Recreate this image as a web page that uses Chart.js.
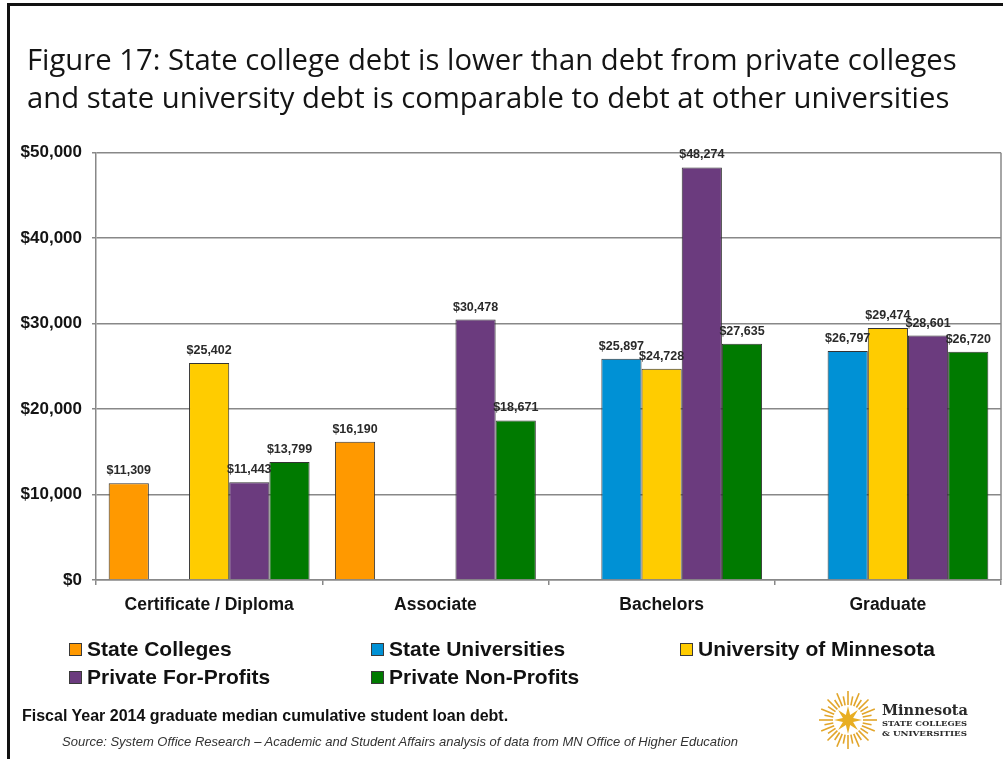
<!DOCTYPE html>
<html>
<head>
<meta charset="utf-8">
<script src="https://cdn.jsdelivr.net/npm/chart.js@4.4.1/dist/chart.umd.min.js"></script>
<style>
html,body{margin:0;padding:0;background:#fff;}
#wrap{position:relative;width:1003px;height:759px;overflow:hidden;background:#fff;}
#frame{position:absolute;left:7px;top:3px;width:1030px;height:820px;border:3px solid #111;box-sizing:border-box;}
#chart{position:absolute;left:0;top:0;}
.lbox{position:absolute;width:11px;height:11px;border:1px solid #3a3a3a;}
.ltxt{position:absolute;font:bold 21px "Liberation Sans",Arial,sans-serif;color:#111;white-space:nowrap;line-height:24px;}
#note{position:absolute;left:22px;top:706px;font:bold 16px "Liberation Sans",Arial,sans-serif;color:#111;white-space:nowrap;line-height:20px;}
#src{position:absolute;left:62px;top:733px;font:italic 13px "Liberation Sans",Arial,sans-serif;color:#333;white-space:nowrap;line-height:18px;}
#logo{position:absolute;left:815px;top:688px;}
</style>
</head>
<body>
<div id="wrap">
  <canvas id="chart" width="1003" height="759"></canvas>
  <div id="frame"></div>
  <div id="legend"></div>
  <div id="note">Fiscal Year 2014 graduate median cumulative student loan debt.</div>
  <div id="src">Source: System Office Research – Academic and Student Affairs analysis of data from MN Office of Higher Education</div>
  <svg id="logo" width="170" height="66" viewBox="0 0 170 66">
    <g id="sun" transform="translate(33,32)"></g>
    <text x="67" y="27" font-family="DejaVu Serif, serif" font-weight="bold" font-size="14" fill="#2b2b2b" textLength="86" lengthAdjust="spacingAndGlyphs">Minnesota</text>
    <text x="67" y="38" font-family="DejaVu Serif, serif" font-weight="bold" font-size="8" fill="#2b2b2b" textLength="85" lengthAdjust="spacingAndGlyphs">STATE COLLEGES</text>
    <text x="67" y="48" font-family="DejaVu Serif, serif" font-weight="bold" font-size="8" fill="#2b2b2b" textLength="85" lengthAdjust="spacingAndGlyphs">&amp; UNIVERSITIES</text>
  </svg>
</div>
<script>
// ---- data ----
const categories = ['Certificate / Diploma', 'Associate', 'Bachelors', 'Graduate'];
const seriesNames = ['State Colleges', 'State Universities', 'University of Minnesota', 'Private For-Profits', 'Private Non-Profits'];
const stateColleges      = [11309, 16190, null,  null];
const stateUniversities  = [null,  null,  25897, 26797];
const univOfMinnesota    = [25402, null,  24728, 29474];
const privateForProfits  = [11443, 30478, 48274, 28601];
const privateNonProfits  = [13799, 18671, 27635, 26720];
const yTickValues = [0, 10000, 20000, 30000, 40000, 50000];
const titleLines = [
  'Figure 17: State college debt is lower than debt from private colleges',
  'and state university debt is comparable to debt at other universities'
];

// ---- styles ----
const seriesColors = ['#FF9900', '#0091D5', '#FFCC00', '#6B3B7E', '#007A00'];
const FONT = '"Liberation Sans", Arial, sans-serif';
const fmt = v => '$' + Number(v).toLocaleString('en-US');

// fit title font to the reference line width
const mctx = document.createElement('canvas').getContext('2d');
let titleSize = 24;
mctx.font = `normal ${titleSize}px "Open Sans"`;
titleSize = +(titleSize * 930 / mctx.measureText(titleLines[0]).width).toFixed(2);

const seriesValues = [stateColleges, stateUniversities, univOfMinnesota, privateForProfits, privateNonProfits];

const framePlugin = {
  id: 'frame',
  afterLayout(chart) {
    if (chart.titleBlock) chart.titleBlock.left = 27;
  },
  beforeDatasetsDraw(chart) {
    const {ctx, chartArea: a} = chart;
    ctx.save();
    ctx.strokeStyle = '#888';
    ctx.lineWidth = 1.5;
    ctx.beginPath();
    ctx.moveTo(a.right, a.top);
    ctx.lineTo(a.right, a.bottom);
    ctx.stroke();
    ctx.restore();
  }
};

const valueLabels = {
  id: 'valueLabels',
  afterDatasetsDraw(chart) {
    const ctx = chart.ctx;
    ctx.save();
    ctx.font = `bold 12.5px ${FONT}`;
    ctx.fillStyle = '#2a2a2a';
    ctx.textAlign = 'center';
    ctx.textBaseline = 'alphabetic';
    chart.data.datasets.forEach((ds, di) => {
      const meta = chart.getDatasetMeta(di);
      meta.data.forEach((el, i) => {
        const v = ds.data[i];
        if (v === null || v === undefined) return;
        ctx.fillText(fmt(v), el.x, el.y - 9);
      });
    });
    ctx.restore();
  }
};

const chart = new Chart(document.getElementById('chart'), {
  type: 'bar',
  data: {
    labels: categories,
    datasets: seriesNames.map((name, i) => ({
      label: name,
      data: seriesValues[i],
      backgroundColor: seriesColors[i],
      borderColor: '#333',
      borderWidth: 1,
      categoryPercentage: 0.888,
      barPercentage: 1.0
    }))
  },
  options: {
    responsive: false,
    animation: false,
    devicePixelRatio: 1,
    layout: { padding: { left: 10, right: 2, top: 0, bottom: 139 } },
    plugins: {
      legend: { display: false },
      tooltip: { enabled: false },
      title: {
        display: true,
        text: titleLines,
        align: 'start',
        color: '#141414',
        font: { family: '"Open Sans"', size: titleSize, weight: 'normal', lineHeight: 38 / titleSize },
        padding: { top: 43, bottom: 33.7 }
      }
    },
    scales: {
      x: {
        grid: { display: true, drawOnChartArea: false, drawTicks: true, tickLength: 5, color: '#888', lineWidth: 1.5, offset: true },
        border: { display: true, color: '#888', width: 1.5 },
        ticks: { font: { family: FONT, size: 17.5, weight: 'bold' }, color: '#141414', padding: 10, maxRotation: 0, autoSkip: false },
        afterFit: s => { s.height = 40; }
      },
      y: {
        min: 0, max: 50000,
        afterBuildTicks: s => { s.ticks = yTickValues.map(v => ({ value: v })); },
        grid: { color: '#888', lineWidth: 1.5, tickLength: 4 },
        border: { display: true, color: '#888', width: 1.5 },
        ticks: { callback: v => fmt(v), font: { family: FONT, size: 17, weight: 'bold' }, color: '#141414', padding: 10 },
        afterFit: s => { s.width = 86; }
      }
    }
  },
  plugins: [framePlugin, valueLabels]
});

// ---- legend built from chart datasets ----
const legendCols = [69, 371, 680];
const legendRows = [649, 677];
const legendEl = document.getElementById('legend');
chart.data.datasets.forEach((ds, i) => {
  const col = i < 3 ? i : i - 3;
  const row = i < 3 ? 0 : 1;
  const x = legendCols[col], yc = legendRows[row];
  const b = document.createElement('div');
  b.className = 'lbox';
  b.style.left = x + 'px';
  b.style.top = (yc - 6) + 'px';
  b.style.background = ds.backgroundColor;
  legendEl.appendChild(b);
  const t = document.createElement('div');
  t.className = 'ltxt';
  t.style.left = (x + 18) + 'px';
  t.style.top = (yc - 12) + 'px';
  t.textContent = ds.label;
  legendEl.appendChild(t);
});

// ---- logo sunburst ----
const sun = document.getElementById('sun');
const NS = 'http://www.w3.org/2000/svg';
for (let k = 0; k < 32; k++) {
  const a = k * Math.PI * 2 / 32;
  const r1 = 15, r2 = (k % 2 === 0) ? 29 : 24;
  const l = document.createElementNS(NS, 'line');
  l.setAttribute('x1', (r1 * Math.cos(a)).toFixed(2));
  l.setAttribute('y1', (r1 * Math.sin(a)).toFixed(2));
  l.setAttribute('x2', (r2 * Math.cos(a)).toFixed(2));
  l.setAttribute('y2', (r2 * Math.sin(a)).toFixed(2));
  l.setAttribute('stroke', '#E2A52A');
  l.setAttribute('stroke-width', '1.6');
  sun.appendChild(l);
}
let pts = [];
for (let k = 0; k < 16; k++) {
  const a = k * Math.PI / 8 - Math.PI / 2;
  const r = (k % 2 === 0) ? 14 : 5.5;
  pts.push((r * Math.cos(a)).toFixed(2) + ',' + (r * Math.sin(a)).toFixed(2));
}
const star = document.createElementNS(NS, 'polygon');
star.setAttribute('points', pts.join(' '));
star.setAttribute('fill', '#E8AE22');
sun.appendChild(star);
</script>
</body>
</html>
